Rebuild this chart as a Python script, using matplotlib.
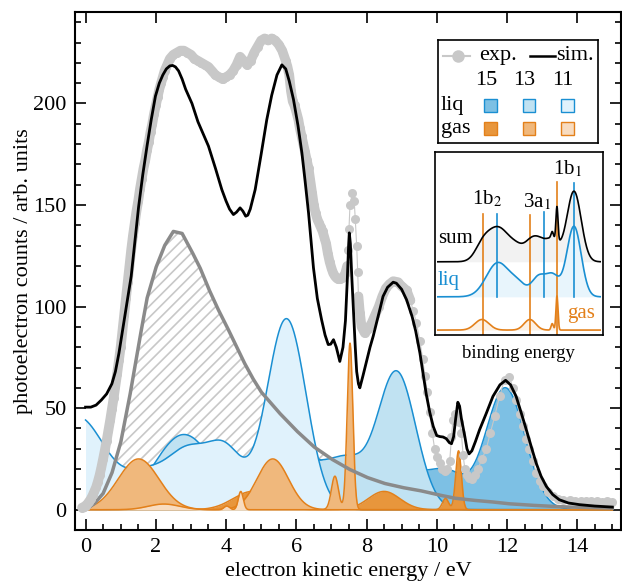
import matplotlib
matplotlib.use('Agg')
import numpy as np
import matplotlib.pyplot as plt
from matplotlib.patches import Rectangle
from matplotlib.lines import Line2D

plt.rcParams.update({
    'font.family': 'serif',
    'font.serif': ['Liberation Serif', 'DejaVu Serif'],
    'mathtext.fontset': 'stix',
    'font.size': 16,
    'hatch.linewidth': 1.2,
})

# --- data ---------------------------------------------------------------
harmonics = ['15', '13', '11']

# liquid peaks per harmonic: (centre eV, height, width eV)
liq_peaks = {
    '15': [(11.95, 60, 0.56), (10.3, 17, 0.5), (9.2, 17, 0.55), (7.6, 9, 0.6), (6.0, 29, 0.9)],
    '13': [(8.85, 68, 0.55), (7.45, 21, 0.5), (6.4, 20, 0.55), (5.0, 22, 0.6), (2.8, 37, 0.85)],
    '11': [(5.72, 94, 0.56), (4.0, 27, 0.5), (2.9, 28, 0.6), (1.7, 14, 0.55), (-0.25, 46, 0.85)],
}
# gas peaks per harmonic
gas_peaks = {
    '15': [(10.62, 29, 0.08), (10.25, 5.5, 0.09), (8.5, 9, 0.45), (4.75, 9, 0.55)],
    '13': [(7.53, 82, 0.08), (7.1, 16.5, 0.1), (5.33, 25, 0.45), (1.51, 25, 0.58)],
    '11': [(4.42, 9, 0.07), (4.02, 1.8, 0.08), (2.23, 2.8, 0.45), (-1.6, 2.8, 0.55)],
}

# inelastic background
bg_x = [0, 0.25, 0.5, 0.75, 1.0, 1.25, 1.5, 1.75, 2.0, 2.25, 2.5, 2.75, 3.0, 3.25,
        3.5, 3.75, 4.0, 4.25, 4.5, 4.75, 5.0, 5.5, 6.0, 6.5, 7.0, 7.5, 8.0, 8.5,
        9.0, 9.5, 10.0, 10.5, 11.0, 11.5, 12.0, 12.5, 13.0, 13.5, 14.0, 14.5, 15.0]
bg_y = [0, 3, 8, 18, 33, 55, 80, 104, 119, 130, 137, 136, 128, 119.5,
        109, 99.5, 91, 82, 73, 65, 58, 48, 39, 31, 25, 20, 16, 13,
        11, 9.5, 7.5, 5.7, 4.7, 4, 3, 2.4, 1.9, 1.5, 1.2, 1, 0.8]

# simulated total spectrum
sim_x = [0.0, 0.15, 0.3, 0.45, 0.6, 0.75, 0.85, 0.95, 1.05, 1.18, 1.3, 1.4, 1.51,
         1.63, 1.75, 1.87, 1.99, 2.1, 2.2, 2.3, 2.4, 2.48, 2.56, 2.65, 2.75, 2.85,
         3.03, 3.2, 3.35, 3.5, 3.7, 3.88, 4.0, 4.1, 4.21, 4.3, 4.4, 4.48, 4.56,
         4.62, 4.69, 4.83, 5.0, 5.16, 5.3, 5.45, 5.59, 5.7, 5.8, 5.92, 6.05, 6.16,
         6.25, 6.35, 6.49, 6.6, 6.72, 6.82, 6.91, 6.98, 7.06, 7.14, 7.24, 7.33,
         7.4, 7.45, 7.49, 7.51, 7.54, 7.58, 7.63, 7.68, 7.72, 7.77, 7.81, 7.9,
         8.0, 8.1, 8.19, 8.3, 8.4, 8.47, 8.6, 8.76, 8.85, 9.0, 9.14, 9.3, 9.4,
         9.52, 9.62, 9.7, 9.8, 9.9, 10.0, 10.09, 10.18, 10.27, 10.36, 10.42, 10.48,
         10.54, 10.6, 10.65, 10.7, 10.8, 10.86, 10.92, 11.0, 11.1, 11.22, 11.4,
         11.6, 11.8, 11.96, 12.1, 12.26, 12.4, 12.55, 12.7, 12.83, 12.97, 13.12,
         13.3, 13.49, 13.75, 14.06, 14.5, 15.0]
sim_y = [50.5, 50.5, 51.5, 54, 57, 62, 68, 77, 88, 102, 115, 131, 149,
         165, 179, 192, 203.6, 210, 214, 217, 218.5, 218.7, 218, 216, 212, 207,
         200, 191, 185, 179, 168, 157.6, 152, 148, 145.3, 146.5, 148.6, 147, 144.5,
         145, 148, 157.6, 175, 192, 204, 214, 219, 217, 211, 202, 189, 175.7,
         162, 146, 119, 104, 93.6, 86, 81.3, 81.5, 83.7, 80, 73, 80,
         93, 112, 130, 136.3, 131, 115, 97, 80, 68, 62, 60, 66,
         73, 80, 85.4, 93, 100, 105, 109.5, 112, 111.5, 108.5, 103.4, 95, 88,
         77.2, 66, 57, 48, 41, 36.5, 36, 35.8, 35, 33, 32.5, 36,
         45, 52.9, 51, 45, 36, 30, 27.5, 29, 33.5, 39.4, 47,
         55.8, 61.5, 63.7, 61.5, 55.8, 48, 39.4, 30.5, 23, 16.5, 11.5,
         7.5, 4.9, 3.3, 2.5, 1.8, 1.3]

# experiment
exp_x = [-0.1, -0.05, 0.0, 0.05, 0.1, 0.15, 0.2, 0.25, 0.3, 0.35, 0.4, 0.45, 0.5,
         0.55, 0.6, 0.65, 0.7, 0.75, 0.8, 0.85, 0.9, 0.95, 1.0, 1.05, 1.1, 1.15,
         1.2, 1.25, 1.3, 1.35, 1.4, 1.45, 1.5, 1.55, 1.6, 1.65, 1.7, 1.75, 1.8,
         1.85, 1.9, 1.95, 2.0, 2.05, 2.1, 2.15, 2.2, 2.25, 2.3, 2.35, 2.4, 2.5,
         2.6, 2.7, 2.8, 2.9, 3.0, 3.1, 3.2, 3.3, 3.4, 3.5, 3.6, 3.7, 3.8, 3.9, 4.0,
         4.1, 4.2, 4.3, 4.4, 4.5, 4.6, 4.7, 4.8, 4.9, 5.0, 5.1, 5.2, 5.3, 5.4, 5.5,
         5.6, 5.7, 5.75, 5.8, 5.85, 5.9, 5.95, 6.0, 6.06, 6.1, 6.15, 6.2, 6.25,
         6.3, 6.35, 6.4, 6.45, 6.5, 6.55, 6.6, 6.65, 6.7, 6.75, 6.8, 6.85, 6.9,
         6.95, 7.0, 7.05, 7.1, 7.15, 7.2, 7.25, 7.3, 7.35, 7.39, 7.45, 7.48, 7.5,
         7.53, 7.6, 7.65, 7.68, 7.72, 7.75, 7.77, 7.81, 7.86, 7.95, 8.05, 8.15,
         8.25, 8.35, 8.45, 8.55, 8.65, 8.76, 8.9, 9.0, 9.14, 9.25, 9.33, 9.42,
         9.52, 9.6, 9.66, 9.73, 9.8, 9.87, 9.94, 10.01, 10.09, 10.16, 10.23, 10.3,
         10.37, 10.42, 10.46, 10.52, 10.58, 10.64, 10.7, 10.75, 10.8, 10.86, 10.93,
         10.99, 11.08, 11.17, 11.29, 11.41, 11.53, 11.65, 11.79, 11.93, 12.07,
         12.17, 12.26, 12.36, 12.45, 12.55, 12.64, 12.74, 12.83, 12.93, 13.02,
         13.16, 13.3, 13.45, 13.6, 13.78, 13.95, 14.1, 14.25, 14.4, 14.55, 14.7,
         14.85, 15.0]
exp_y = [1, 1.3, 2, 2.8, 4, 5.3, 7, 9, 11, 13.8, 17, 20.8, 25,
         29.3, 34, 39, 44, 49.5, 55, 61, 67, 73.5, 80, 88, 96, 104,
         112, 120, 128, 135, 141, 147, 152, 158, 163, 168, 172, 177, 181,
         186, 190, 195, 199, 203, 207, 210, 213, 216, 218, 220, 222, 224,
         225, 226, 226, 225, 224, 222, 221, 220, 219, 218, 216, 214, 213, 212, 213,
         214, 216, 219, 223, 221, 219, 221, 225, 228, 231, 232, 231, 232, 231, 229,
         226, 221, 218, 214, 206, 201, 199, 196, 192, 188, 184, 180, 176,
         172, 168, 162, 156, 150, 146, 143, 141, 139, 137, 134, 131, 126,
         122, 119, 116.5, 115, 114, 113.5, 113.5, 114, 115, 116, 120, 128, 138,
         150, 156, 152, 143, 130, 117, 105, 97, 90, 87, 89, 92,
         96, 100, 105, 109, 111, 112.5, 112, 110, 108, 103, 98, 92,
         83, 74, 66, 58, 48, 38, 30, 26, 23, 20, 19, 20,
         24, 36, 44, 47, 46, 43, 38, 27, 20, 17, 15.5,
         15, 17, 20, 25, 30, 38, 46, 56, 64, 65.5,
         60, 54, 47, 41, 35, 30, 24, 18, 14, 11.5,
         8.5, 6.6, 5.5, 5, 4.9, 4.5, 4.2, 4.2, 4.1, 4.2, 4.0,
         4.1, 4.0]

liq_fill = {'15': '#7dc0e4', '13': '#c0e2f2', '11': '#e0f2fc'}
gas_fill = {'15': '#e8963c', '13': '#f0b87c', '11': '#f8dcc0'}
liq_edge = '#1a8fd2'
gas_edge = '#e3801a'
exp_color = '#c8c8c8'

# inset (binding energy picture of the 15th harmonic)
inset_gas_lines = [4.8, 8.5, 10.62]
inset_liq_lines = [5.95, 9.6, 11.95]


def peaks(x, table):
    return sum(h * np.exp(-(x - c)**2 / (2 * s**2)) for c, h, s in table)


fig = plt.figure(figsize=(6.22, 5.82), dpi=100)
ax = fig.add_axes([0.1206, 0.0893, 0.878, 0.890])

x = np.linspace(0, 15, 3001)
bg = np.interp(x, bg_x, bg_y)

ax.fill_between(x, 0, bg, facecolor='none', edgecolor='#c8c8c8', hatch='///',
                linewidth=0, zorder=0.5)

z = 1
for comp, fills, edge in [(liq_peaks, liq_fill, liq_edge), (gas_peaks, gas_fill, gas_edge)]:
    for h in harmonics:
        y = peaks(x, comp[h])
        ax.fill_between(x, 0, y, color=fills[h], lw=0, zorder=z)
        ax.plot(x, y, color=edge, lw=1.1, zorder=z + 0.5)
        z += 1

ax.plot(x, bg, color='#8a8a8a', lw=2.5, zorder=10)

# dense low-energy data points merge into a band
ex = np.array(exp_x)
ey = np.array(exp_y)
dense = [ex <= 7.45, (ex >= 7.77) & (ex <= 9.3)]
for m in dense:
    ax.plot(ex[m], ey[m], color=exp_color, lw=7, solid_capstyle='round',
            solid_joinstyle='round', zorder=11)
ax.plot(ex, ey, color=exp_color, lw=0.8, marker='o', ms=6.5, mec='none', zorder=11)
ax.plot(sim_x, sim_y, color='k', lw=2, zorder=12)

ax.set_xlim(-0.3, 15.25)
ax.set_ylim(-10, 245)
ax.set_xticks(np.arange(0, 15, 2))
ax.set_xticks(np.arange(0, 15.1, 0.5), minor=True)
ax.set_yticks(np.arange(0, 201, 50))
ax.set_yticks(np.arange(-10, 241, 10), minor=True)
ax.tick_params(which='both', direction='in', top=True, right=True, width=1.2)
ax.tick_params(which='major', length=8, pad=6)
ax.tick_params(which='minor', length=4.5)
ax.tick_params(axis='x', which='minor', top=False)
for s in ax.spines.values():
    s.set_linewidth(1.5)
ax.set_xlabel('electron kinetic energy / eV', labelpad=3)
ax.set_ylabel('photoelectron counts / arb. units', labelpad=0)

# --- custom legend box ---
lax = fig.add_axes([0.704, 0.754, 0.257, 0.177])
lax.set_xlim(0, 1)
lax.set_ylim(0, 1)
lax.set_xticks([])
lax.set_yticks([])
for s in lax.spines.values():
    s.set_linewidth(1.2)
lax.add_line(Line2D([0.03, 0.2], [0.85, 0.85], color=exp_color, lw=1.5))
lax.plot([0.125], [0.85], 'o', color=exp_color, ms=9, mec='none')
lax.text(0.26, 0.85, 'exp.', va='center', fontsize=16)
lax.add_line(Line2D([0.575, 0.73], [0.85, 0.85], color='k', lw=1.8))
lax.text(0.74, 0.85, 'sim.', va='center', fontsize=16)
col_x = [0.33, 0.57, 0.81]
for cx, h in zip(col_x, harmonics):
    lax.text(cx - 0.03, 0.61, h, ha='center', va='center', fontsize=16)
    lax.add_patch(Rectangle((cx - 0.04, 0.369 - 0.062), 0.08, 0.124,
                            facecolor=liq_fill[h], edgecolor=liq_edge, lw=1))
    lax.add_patch(Rectangle((cx - 0.04, 0.143 - 0.062), 0.08, 0.124,
                            facecolor=gas_fill[h], edgecolor=gas_edge, lw=1))
lax.text(0.02, 0.37, 'liq', va='center', fontsize=16)
lax.text(0.02, 0.14, 'gas', va='center', fontsize=16)

# --- inset ---
iax = fig.add_axes([0.699, 0.4244, 0.270, 0.3144])
xi = np.linspace(1.3, 14.0, 1500)
liq_i = peaks(xi, liq_peaks['15'])
gas_i = peaks(xi, gas_peaks['15'])
off_sum, off_liq, off_gas = 58.1, 28.3, 0.0
iax.fill_between(xi, off_sum, off_sum + liq_i + gas_i, color='#f2f2f2', lw=0)
iax.fill_between(xi, off_liq, off_liq + liq_i, color='#e8f5fc', lw=0)
iax.fill_between(xi, off_gas, off_gas + gas_i, color='#fdf1e4', lw=0)
for xl, top in zip(inset_gas_lines, [99, 97.7, 126]):
    iax.plot([xl, xl], [-4.2, top], color=gas_edge, lw=1.2)
for xl, top in zip(inset_liq_lines, [99, 100.5, 125.4]):
    iax.plot([xl, xl], [off_liq, top], color=liq_edge, lw=1.2)
iax.plot(xi, off_sum + liq_i + gas_i, color='k', lw=1.2)
iax.plot(xi, off_liq + liq_i, color=liq_edge, lw=1.2)
iax.plot(xi, off_gas + gas_i, color=gas_edge, lw=1.2)
iax.text(5.13, 111.3, '1b$_2$', ha='center', va='center', fontsize=15)
iax.text(9.03, 109, '3a$_1$', ha='center', va='center', fontsize=15)
iax.text(11.43, 137.3, '1b$_1$', ha='center', va='center', fontsize=15)
iax.text(1.32, 77.9, 'sum', ha='left', va='center', fontsize=15)
iax.text(1.32, 42.5, 'liq', ha='left', va='center', fontsize=15, color=liq_edge)
iax.text(13.6, 14.2, 'gas', ha='right', va='center', fontsize=15, color=gas_edge)
iax.set_xlim(1.06, 14.2)
iax.set_ylim(-4.2, 151.5)
iax.set_xticks([])
iax.set_yticks([])
for s in iax.spines.values():
    s.set_linewidth(1.2)
iax.text(0.5, -0.1, 'binding energy', transform=iax.transAxes,
         ha='center', va='center', fontsize=13.5)

fig.savefig('out.png', dpi=100)
